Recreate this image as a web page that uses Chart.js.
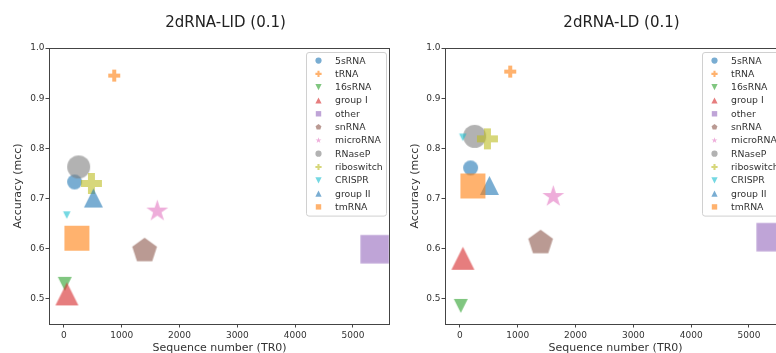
<!DOCTYPE html>
<html>
<head>
<meta charset="utf-8">
<script src="https://cdn.jsdelivr.net/npm/chart.js@4/dist/chart.umd.min.js"></script>
<style>
  html, body { margin: 0; padding: 0; background: #fff; }
  body { width: 776px; height: 353px; overflow: hidden; position: relative; }
  canvas { position: absolute; top: 0; }
</style>
</head>
<body>
<canvas id="chart-lid" width="392" height="360" style="left:0"></canvas>
<canvas id="chart-ld" width="400" height="360" style="left:392px"></canvas>
<script>
// RNA families, in legend order
const categories = ['5sRNA', 'tRNA', '16sRNA', 'group I', 'other', 'snRNA',
  'microRNA', 'RNaseP', 'riboswitch', 'CRISPR', 'group II', 'tmRNA'];

// Sequence number (TR0), shared by both panels
const seqCount = [185, 870, 15, 52, 5375, 1395, 1615, 255, 475, 50, 510, 225];

// Accuracy (mcc) per panel
const accLID = [0.733, 0.945, 0.530, 0.510, 0.599, 0.596, 0.675, 0.763, 0.730, 0.667, 0.701, 0.621];
const accLD = [0.761, 0.953, 0.486, 0.581, 0.623, 0.612, 0.704, 0.824, 0.819, 0.822, 0.726, 0.725];

const xTicks = [0, 1000, 2000, 3000, 4000, 5000];
const yTicks = [0.5, 0.6, 0.7, 0.8, 0.9, 1.0];

// Marker look
const markerShapes = ['circle', 'plus', 'triDown', 'triUp', 'square', 'pentagon',
  'star', 'circle', 'plus', 'triDown', 'triUp', 'square'];
const markerSizes = [15, 12, 14, 23, 28.5, 26, 23, 23, 21, 7.5, 19, 25];
const markerColors = ['#1f77b4', '#ff7f0e', '#2ca02c', '#d62728', '#9467bd', '#8c564b',
  '#e377c2', '#7f7f7f', '#bcbd22', '#17becf', '#1f77b4', '#ff7f0e'];
const ALPHA = 0.6;

const FONT = "'DejaVu Sans', sans-serif";
const TEXT = '#333';

function rgba(hex, a) {
  const n = parseInt(hex.slice(1), 16);
  return `rgba(${n >> 16},${(n >> 8) & 255},${n & 255},${a})`;
}

// Trace a matplotlib-like marker path around (0,0), r = half extent
function tracePath(g, shape, r) {
  g.beginPath();
  if (shape === 'circle') {
    g.arc(0, 0, r, 0, Math.PI * 2);
  } else if (shape === 'square') {
    g.rect(-r, -r, 2 * r, 2 * r);
  } else if (shape === 'triUp') {
    g.moveTo(0, -r); g.lineTo(r, r); g.lineTo(-r, r);
  } else if (shape === 'triDown') {
    g.moveTo(0, r); g.lineTo(r, -r); g.lineTo(-r, -r);
  } else if (shape === 'pentagon' || shape === 'star') {
    const n = shape === 'star' ? 10 : 5;
    for (let k = 0; k < n; k++) {
      const a = -Math.PI / 2 + k * 2 * Math.PI / n;
      const rr = shape === 'star' && k % 2 ? r * 0.381966 : r;
      g.lineTo(rr * Math.cos(a), rr * Math.sin(a));
    }
  } else if (shape === 'plus') {
    const a = r / 3;
    const pts = [[-a, -r], [a, -r], [a, -a], [r, -a], [r, a], [a, a],
      [a, r], [-a, r], [-a, a], [-r, a], [-r, -a], [-a, -a]];
    pts.forEach(([px, py]) => g.lineTo(px, py));
  }
  g.closePath();
}

function markerCanvas(shape, size, color) {
  const d = Math.ceil(size) + 4;
  const c = document.createElement('canvas');
  c.width = d; c.height = d;
  const g = c.getContext('2d');
  g.translate(d / 2, d / 2);
  tracePath(g, shape, size / 2);
  g.fillStyle = rgba(color, ALPHA);
  g.fill();
  return c;
}

// Full box round the axes (drawn above the markers, like matplotlib spines)
const spinesPlugin = {
  id: 'spines',
  afterDatasetsDraw(chart) {
    const { ctx, chartArea: a } = chart;
    ctx.save();
    ctx.strokeStyle = '#444';
    ctx.lineWidth = 1;
    ctx.strokeRect(Math.round(a.left) + 0.5, Math.round(a.top) + 0.5,
      Math.round(a.right - a.left) - 1, Math.round(a.bottom - a.top));
    ctx.restore();
  }
};

// Panel title centred over the axes
const panelTitlePlugin = {
  id: 'panelTitle',
  afterDraw(chart, args, opts) {
    const { ctx, chartArea: a } = chart;
    ctx.save();
    ctx.font = `15px ${FONT}`;
    ctx.fillStyle = '#222';
    ctx.textAlign = 'center';
    ctx.textBaseline = 'middle';
    ctx.fillText(opts.text, (a.left + a.right) / 2 + 6, 23);
    ctx.restore();
  }
};

// Legend box in the upper right corner of the axes
const boxLegendPlugin = {
  id: 'boxLegend',
  afterDraw(chart) {
    const { ctx, chartArea: a } = chart;
    const w = 80, rowH = 13.3;
    const h = rowH * categories.length + 4;
    const x0 = a.right - 4 - w, y0 = a.top + 4;
    ctx.save();
    ctx.beginPath();
    ctx.roundRect(x0 + 0.5, y0 + 0.5, w, h, 2.5);
    ctx.fillStyle = 'rgba(255,255,255,0.8)';
    ctx.fill();
    ctx.strokeStyle = '#d0d0d0';
    ctx.lineWidth = 1;
    ctx.stroke();
    ctx.font = `9.3px ${FONT}`;
    ctx.textBaseline = 'middle';
    ctx.textAlign = 'left';
    categories.forEach((name, i) => {
      const cy = y0 + 8.6 + i * rowH;
      ctx.save();
      ctx.translate(x0 + 12.5, cy);
      tracePath(ctx, markerShapes[i], markerShapes[i] === 'square' ? 2.7 : 3.1);
      ctx.fillStyle = rgba(markerColors[i], ALPHA);
      ctx.fill();
      ctx.restore();
      ctx.fillStyle = TEXT;
      ctx.fillText(name, x0 + 29, cy + 0.5);
    });
    ctx.restore();
  }
};

function renderPanel(canvasId, title, accuracy, frame) {
  const ctx = document.getElementById(canvasId).getContext('2d');

  const datasets = categories.map((name, i) => ({
    label: name,
    data: [{ x: seqCount[i], y: accuracy[i] }],
    pointStyle: markerCanvas(markerShapes[i], markerSizes[i], markerColors[i]),
    pointRadius: markerSizes[i] / 2,
    backgroundColor: rgba(markerColors[i], ALPHA),
    borderWidth: 0,
    order: categories.length - 1 - i,
    clip: 0,
  }));

  return new Chart(ctx, {
    type: 'scatter',
    data: { datasets },
    plugins: [spinesPlugin, panelTitlePlugin, boxLegendPlugin],
    options: {
      responsive: false,
      devicePixelRatio: 1,
      animation: false,
      events: [],
      layout: {
        autoPadding: false,
        padding: { left: 0, right: frame.padRight, top: 48, bottom: 0 },
      },
      plugins: {
        legend: { display: false },
        tooltip: { enabled: false },
        panelTitle: { text: title },
      },
      scales: {
        x: {
          type: 'linear',
          min: -258,
          max: 5640,
          afterBuildTicks: s => { s.ticks = xTicks.map(v => ({ value: v })); },
          afterFit: s => {
            s.height = 36;
            s.paddingLeft = 0;
            s.paddingRight = 0;
          },
          border: { display: false },
          grid: { drawOnChartArea: false, tickLength: 3.5, color: '#444' },
          ticks: {
            color: TEXT,
            font: { family: FONT, size: 9 },
            padding: 2.5,
            maxRotation: 0,
            callback: v => String(v),
          },
          title: {
            display: true,
            text: 'Sequence number (TR0)',
            color: TEXT,
            font: { family: FONT, size: 11 },
            padding: { top: 0, bottom: 5.7 },
          },
        },
        y: {
          type: 'linear',
          min: 0.45,
          max: 1.0,
          afterBuildTicks: s => { s.ticks = yTicks.map(v => ({ value: v })); },
          afterFit: s => {
            s.width = frame.yWidth;
            s.paddingTop = 0;
            s.paddingBottom = 0;
          },
          border: { display: false },
          grid: { drawOnChartArea: false, tickLength: 3.5, color: '#444' },
          ticks: {
            color: TEXT,
            font: { family: FONT, size: 9 },
            padding: 1,
            callback: v => v.toFixed(1),
          },
          title: {
            display: true,
            text: 'Accuracy (mcc)',
            color: TEXT,
            font: { family: FONT, size: 11 },
            padding: { top: frame.yTitlePad, bottom: 0 },
          },
        },
      },
    },
  });
}

renderPanel('chart-lid', '2dRNA-LID (0.1)', accLID, { yWidth: 49, padRight: 2, yTitlePad: 11.4 });
renderPanel('chart-ld', '2dRNA-LD (0.1)', accLD, { yWidth: 53, padRight: 6, yTitlePad: 16.4 });
</script>
</body>
</html>
